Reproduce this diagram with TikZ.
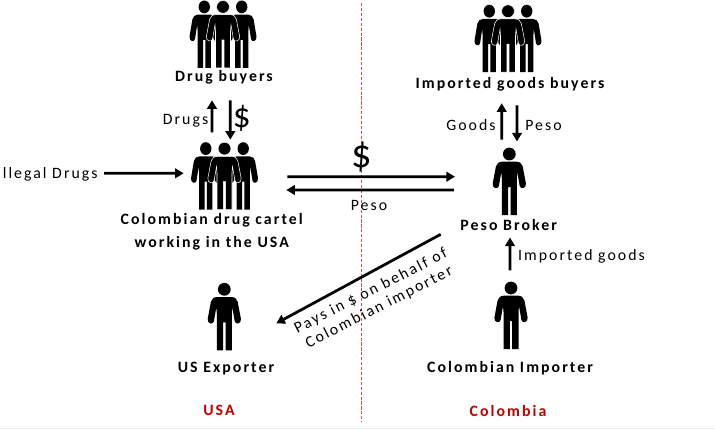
\documentclass[tikz,border=0pt]{standalone}
\usepackage{fontspec}
\setmainfont{Carlito}[LetterSpace=13]
\newfontfamily\dollarfont{Carlito}
\usetikzlibrary{arrows.meta}
\definecolor{mcfigure}{HTML}{000000}
\definecolor{mcborder}{HTML}{D05050}
\definecolor{mccountry}{HTML}{C00000}
\definecolor{mcband}{HTML}{EDEDED}
\tikzset{
    person/.pic={
        \path[shift={(0,-27.3)}, fill=mcfigure, pic actions] (0,0) circle[radius=6.4];
        \path[shift={(0,-27.3)}, fill=mcfigure, pic actions] (0,7.7) -- (7,7.7) .. controls (10.5,7.7) and (12.5,9.5) .. (13.4,12.5) -- (16.6,29.5) .. controls (17.4,34.5) and (11.2,35.8) .. (10.4,32) -- (8,18) -- (7.5,24) -- (7.5,61) -- (1.2,61) -- (1.2,33) -- (-1.2,33) -- (-1.2,61) -- (-7.5,61) -- (-7.5,24) -- (-8,18) -- (-10.4,32) .. controls (-11.2,35.8) and (-17.4,34.5) .. (-16.6,29.5) -- (-13.4,12.5) .. controls (-12.5,9.5) and (-10.5,7.7) .. (-7,7.7) -- cycle;
    },
    trio/.pic={
        \pic[xscale=0.89] at (-21.5,0) {person};
        \pic[xscale=0.89] at (21.5,0) {person};
        \pic[draw=white, line width=0.3pt] at (0,0) {person};
    },
    single/.style={inner sep=0pt, minimum width=0.652cm, minimum height=1.348cm},
    group/.style={inner sep=0pt, minimum width=1.28cm, minimum height=1.172cm},
    lbl/.style={inner sep=0pt, text height=7.5pt, text depth=1.5pt, font=\fontsize{9}{10}\selectfont},
    lblbold/.style={lbl, font=\fontsize{9}{10}\selectfont\bfseries},
    country/.style={lblbold, text=mccountry},
    flow/.style={line width=0.055cm, -{Triangle[length=0.17cm,width=0.19cm]}}
}
\begin{document}
\begin{tikzpicture}[x=0.02cm, y=-0.02cm]
    \useasboundingbox (0,0) rectangle (715,429);
    \fill[mcband] (0,427.5) rectangle (715,429);

    \coordinate (bordertop) at (361.5,3);
    \coordinate (borderbot) at (361.5,422);
    \draw[mcborder, line width=0.7pt, dash pattern=on 1.8pt off 1pt] (bordertop) -- (borderbot);

    \node[group] (buyers) at (223,34.2) {};
    \node[group] (cartel) at (224.5,175.9) {};
    \node[group] (gbuyers) at (508,38.5) {};
    \node[single] (broker) at (509.3,181.3) {};
    \node[single] (exporter) at (224.3,316.6) {};
    \node[single] (importer) at (511,315.3) {};
    \pic[scale=0.87] at (buyers) {trio};
    \pic[scale=0.87] at (cartel) {trio};
    \pic[scale=0.87] at (gbuyers) {trio};
    \pic at (broker) {person};
    \pic at (exporter) {person};
    \pic at (importer) {person};

    \node[lblbold] (buyerstext) at (224,76) {Drug buyers};
    \node[lblbold] (gbuyerstext) at (510,83) {Imported goods buyers};
    \node[lblbold, align=center, text height=, text depth=, font=\fontsize{9}{12.9}\selectfont\bfseries] (carteltext) at (211.7,231.5) {Colombian drug cartel\\working in the USA};
    \node[lblbold] (brokertext) at (508.7,225) {Peso Broker};
    \node[lblbold] (exportertext) at (226,367) {US Exporter};
    \node[lblbold] (importertext) at (510,367) {Colombian Importer};
    \node[country] (usa) at (219,410.7) {USA};
    \node[country] (colombia) at (508,411) {Colombia};

    \node[lbl, anchor=east] (illegal) at (98,173.3) {llegal Drugs};
    \node[lbl] (drugs) at (185.5,119.5) {Drugs};
    \node[lbl] (goods) at (471,125) {Goods};
    \node[lbl] (pesoup) at (543.5,125) {Peso};
    \node[lbl] (pesomid) at (369,205) {Peso};
    \node[lbl] (goodsin) at (581.5,255.7) {Imported goods};
    \node[lbl, rotate=27, align=center, text height=, text depth=, font=\fontsize{9}{10.3}\selectfont] (pays) at (375,299.5) {Pays in {\dollarfont\$} on behalf of\\Colombian importer};
    \node[inner sep=0pt, font=\dollarfont\fontsize{20}{22}\selectfont] (dollarup) at (241.7,118) {\$};
    \node[inner sep=0pt, font=\dollarfont\fontsize{23}{25}\selectfont] (dollarmid) at (362,156.7) {\$};

    \draw[flow] ([xshift=0.12cm]illegal.east) -- ([xshift=-0.17cm,yshift=0.052cm]cartel.west);
    \draw[flow] ([xshift=-0.25cm,yshift=0.278cm]cartel.north) -- ([xshift=-0.24cm,yshift=-0.32cm]buyerstext.south);
    \draw[flow] ([xshift=0.126cm,yshift=-0.32cm]buyerstext.south) -- ([xshift=0.116cm,yshift=0.132cm]cartel.north);
    \draw[flow] ([xshift=0.61cm,yshift=-0.016cm]cartel.east) -- ([xshift=-0.754cm,yshift=0.092cm]broker.west);
    \draw[flow] ([xshift=-0.774cm,yshift=-0.174cm]broker.west) -- ([xshift=0.59cm,yshift=-0.282cm]cartel.east);
    \draw[flow] ([xshift=-0.152cm,yshift=0.152cm]broker.north) -- ([xshift=-0.166cm,yshift=-0.24cm]gbuyerstext.south);
    \draw[flow] ([xshift=0.14cm,yshift=-0.28cm]gbuyerstext.south) -- ([xshift=0.154cm,yshift=0.116cm]broker.north);
    \draw[flow] ([xshift=-0.02cm,yshift=0.218cm]importer.north) -- ([xshift=0.026cm,yshift=-0.086cm]brokertext.south);
    \draw[flow] ([xshift=-1.04cm,yshift=-0.38cm]broker.south west) -- ([xshift=0.708cm,yshift=-0.134cm]exporter.east);
\end{tikzpicture}
\end{document}
